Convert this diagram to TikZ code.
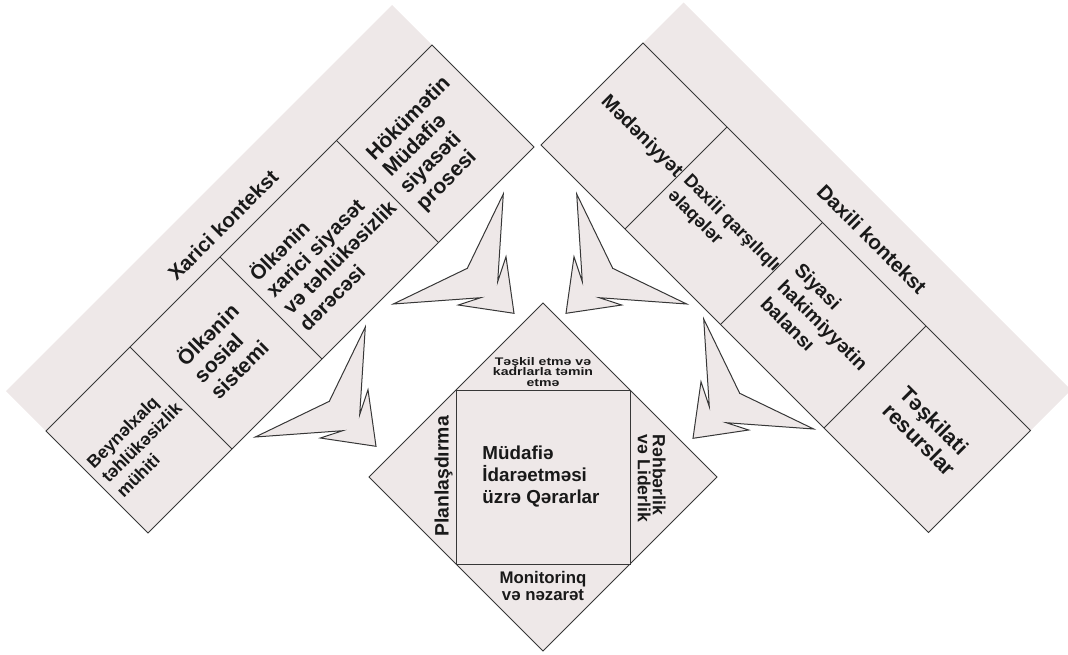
\documentclass[tikz,border=0pt]{standalone}
\usepackage{fontspec}
\setmainfont{Liberation Sans}
\newfontfamily\widesans[FakeStretch=1.28]{Liberation Sans}
\definecolor{panel}{RGB}{238,232,232}
\definecolor{edge}{RGB}{55,55,55}
\tikzset{
  band/.style={fill=panel, draw=none},
  cell/.style={fill=panel, draw=edge, line width=1pt, line join=miter},
  sep/.style={draw=edge, line width=1pt},
  dartshape/.style={fill=panel, draw=edge, line width=1pt, line join=miter},
  lbl/.style={inner sep=0pt, align=left, text=black!90},
  lblc/.style={inner sep=0pt, align=center, text=black!90},
  pics/dart/.style={code={
    \path[dartshape] (-10.7,-119.3) -- (-46.7,-45) -- (-120.7,-9.3)
      -- (-33.3,-15.6) -- (-55.7,-8.3) -- (0,0) -- (-8,-56.6)
      -- (-16.3,-31.6) -- cycle;}}
}
\newcommand{\tsz}[2]{\fontsize{#1}{#2}\selectfont\bfseries}

\begin{document}
\begin{tikzpicture}[x=1pt,y=-1pt]
\useasboundingbox (0,0) rectangle (1068,654);
\clip (0,0) rectangle (1068,654);

% ---- external context band (left) ----
\path[band] (392,5) -- (534,147) -- (148,533) -- (6,391) -- cycle;
\path[cell] (432,45) -- (534,147) -- (148,533) -- (46,431) -- cycle;
\draw[sep] (130,347) -- (232,449);
\draw[sep] (220,257) -- (322,359);
\draw[sep] (336.5,140.5) -- (438.5,242.5);

\node[lbl, rotate=45, font=\tsz{20.5}{23.5}] (xk) at (223,225) {Xarici kontekst};
\node[lbl, rotate=45, font=\tsz{17.6}{21}] (bt) at (141.5,442.5) {Beynəlxalq\\təhlükəsizlik\\mühiti};
\node[lbl, rotate=45, font=\tsz{21}{23.5}] (os) at (223.5,350.5) {Ölkənin\\sosial\\sistemi};
\node[lbl, rotate=45, font=\tsz{20.5}{23.5}] (ox) at (330,248) {Ölkənin\\xarici siyasət\\və təhlükəsizlik\\dərəcəsi};
\node[lbl, rotate=45, font=\tsz{21}{23.5}] (hm) at (434,144) {Hökümətin\\Müdafiə\\siyasəti\\prosesi};

% ---- internal context band (right) ----
\path[band] (683.5,2.5) -- (1071,390) -- (928.5,532.5) -- (541,145) -- cycle;
\path[cell] (643,43) -- (1030.5,430.5) -- (928.5,532.5) -- (541,145) -- cycle;
\draw[sep] (727,127) -- (625,229);
\draw[sep] (822.5,222.5) -- (720.5,324.5);
\draw[sep] (926,326) -- (824,428);

\node[lbl, rotate=-45, font=\tsz{20.5}{23.5}] (dk) at (872,239) {Daxili kontekst};
\node[lbl, rotate=-45, font=\tsz{19.5}{23}] (md) at (641.5,136.5) {Mədəniyyət};
\node[lbl, rotate=-45, font=\tsz{18.2}{22}] (dq) at (723.75,231.25) {Daxili qarşılıqlı\\əlaqələr};
\node[lbl, rotate=-45, font=\tsz{19.5}{24}] (sh) at (823,325) {Siyasi\\hakimiyyətin\\balansı};
\node[lbl, rotate=-45, font=\tsz{21.5}{24}] (tr) at (928,431) {Təşkilati\\resurslar};

% ---- pointers towards the centre ----
\pic (d1) at (514,313.3) {dart};
\pic (d2) at (376,446.3) {dart};
\pic[xscale=-1] (d3) at (566,313.3) {dart};
\pic[xscale=-1] (d4) at (693,438.3) {dart};

% ---- central diamond ----
\path[cell] (543,303) -- (717,477) -- (543,651) -- (369,477) -- cycle;
\path[cell] (456,390) rectangle (630,564);

\node[lbl, font=\tsz{18.8}{22}] (core) at (541,477) {Müdafiə\\İdarəetməsi\\üzrə Qərarlar};
\node[lblc, font={\widesans\tsz{11}{10.3}}] (org) at (543,372) {Təşkil etmə və\\kadrlarla təmin\\etmə};
\node[lbl, rotate=90, font=\tsz{19.4}{22}] (plan) at (443.5,476.5) {Planlaşdırma};
\node[lbl, rotate=-90, font=\tsz{17.6}{15}] (lead) at (651.7,478.5) {Rəhbərlik\\və Liderlik};
\node[lblc, font=\tsz{16.8}{17}] (mon) at (543,586) {Monitorinq\\və nəzarət};
\end{tikzpicture}
\end{document}
